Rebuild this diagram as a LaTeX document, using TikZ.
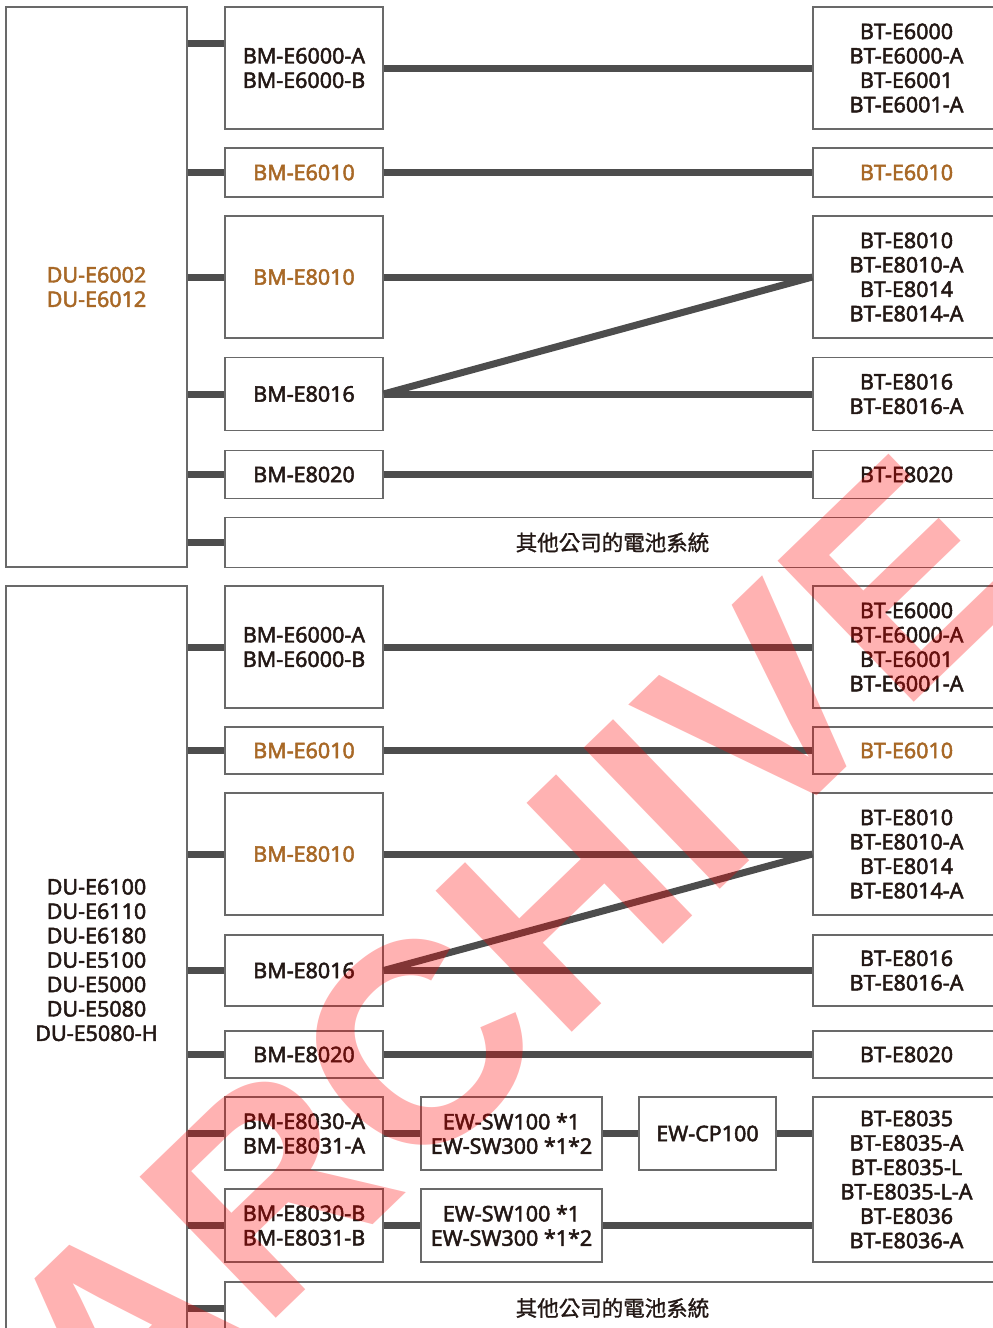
\documentclass[tikz,border=0pt]{standalone}
\usepackage{fontspec}
\setmainfont{Noto Sans}[FakeBold=2.2]
\newfontfamily\cjkfont{Noto Sans CJK TC}[FakeBold=1.2]
\newfontfamily\stampfont{Liberation Sans}
\definecolor{ink}{RGB}{35,24,21}
\definecolor{amber}{RGB}{168,104,38}
\definecolor{boxgray}{RGB}{105,105,105}
\definecolor{wiregray}{RGB}{77,77,77}
\definecolor{stampred}{RGB}{255,0,0}

\begin{document}
\begin{tikzpicture}[x=1pt, y=-1pt,
                    every node/.style={draw=boxgray, line width=1.2pt, fill=white, inner sep=0pt, align=center, text=ink, font=\fontsize{21.5}{24.4}\selectfont},
                    wire/.style={draw=wiregray, line width=7pt}
                    ]

    \useasboundingbox (0,0) rectangle (993,1328);
    \clip (0,0) rectangle (993,1328);

    \node[minimum width=181pt, minimum height=560pt, text=amber] (duA) at (96.5,287) {DU-E6002\\DU-E6012};
    \node[minimum width=158pt, minimum height=122pt] (bmA1) at (304,68) {BM-E6000-A\\BM-E6000-B};
    \node[minimum width=158pt, minimum height=49pt, text=amber] (bmA2) at (304,172.5) {BM-E6010};
    \node[minimum width=158pt, minimum height=122pt, text=amber] (bmA3) at (304,277) {BM-E8010};
    \node[minimum width=158pt, minimum height=73pt] (bmA4) at (304,394) {BM-E8016};
    \node[minimum width=158pt, minimum height=48pt] (bmA5) at (304,474.5) {BM-E8020};
    \node[minimum width=775pt, minimum height=50pt] (otherA) at (612.5,542.5) {\cjkfont 其他公司的電池系統};
    \node[minimum width=187pt, minimum height=122pt] (btA1) at (906.5,68) {BT-E6000\\BT-E6000-A\\BT-E6001\\BT-E6001-A};
    \node[minimum width=187pt, minimum height=49pt, text=amber] (btA2) at (906.5,172.5) {BT-E6010};
    \node[minimum width=187pt, minimum height=122pt] (btA3) at (906.5,277) {BT-E8010\\BT-E8010-A\\BT-E8014\\BT-E8014-A};
    \node[minimum width=187pt, minimum height=73pt] (btA4) at (906.5,394) {BT-E8016\\BT-E8016-A};
    \node[minimum width=187pt, minimum height=48pt] (btA5) at (906.5,474.5) {BT-E8020};

    \node[minimum width=181pt, minimum height=748pt] (duB) at (96.5,960) {DU-E6100\\DU-E6110\\DU-E6180\\DU-E5100\\DU-E5000\\DU-E5080\\DU-E5080-H};
    \node[minimum width=158pt, minimum height=122pt] (bmB1) at (304,647) {BM-E6000-A\\BM-E6000-B};
    \node[minimum width=158pt, minimum height=47pt, text=amber] (bmB2) at (304,750.5) {BM-E6010};
    \node[minimum width=158pt, minimum height=122pt, text=amber] (bmB3) at (304,854) {BM-E8010};
    \node[minimum width=158pt, minimum height=71pt] (bmB4) at (304,970.5) {BM-E8016};
    \node[minimum width=158pt, minimum height=47pt] (bmB5) at (304,1054.5) {BM-E8020};
    \node[minimum width=158pt, minimum height=73pt] (bmB6) at (304,1133.5) {BM-E8030-A\\BM-E8031-A};
    \node[minimum width=158pt, minimum height=73pt] (bmB7) at (304,1225.5) {BM-E8030-B\\BM-E8031-B};
    \node[minimum width=181pt, minimum height=73pt] (swB1) at (511.5,1133.5) {EW-SW100 *1\\EW-SW300 *1*2};
    \node[minimum width=181pt, minimum height=73pt] (swB2) at (511.5,1225.5) {EW-SW100 *1\\EW-SW300 *1*2};
    \node[minimum width=137pt, minimum height=73pt] (cpB) at (707.5,1133.5) {EW-CP100};
    \node[minimum width=775pt, minimum height=52pt] (otherB) at (612.5,1308) {\cjkfont 其他公司的電池系統};
    \node[minimum width=187pt, minimum height=122pt] (btB1) at (906.5,647) {BT-E6000\\BT-E6000-A\\BT-E6001\\BT-E6001-A};
    \node[minimum width=187pt, minimum height=47pt, text=amber] (btB2) at (906.5,750.5) {BT-E6010};
    \node[minimum width=187pt, minimum height=122pt] (btB3) at (906.5,854) {BT-E8010\\BT-E8010-A\\BT-E8014\\BT-E8014-A};
    \node[minimum width=187pt, minimum height=71pt] (btB4) at (906.5,970.5) {BT-E8016\\BT-E8016-A};
    \node[minimum width=187pt, minimum height=47pt] (btB5) at (906.5,1054.5) {BT-E8020};
    \node[minimum width=187pt, minimum height=165pt] (btB6) at (906.5,1179.5) {BT-E8035\\BT-E8035-A\\BT-E8035-L\\BT-E8035-L-A\\BT-E8036\\BT-E8036-A};

    \coordinate (tapA) at (0,43);
    \draw[wire] (duA.east |- tapA) -- (bmA1.west |- tapA);
    \foreach \m in {bmA2,bmA3,bmA4,bmA5,otherA}{
        \draw[wire] (duA.east |- \m.west) -- (\m.west);
    }
    \foreach \m/\t in {bmA1/btA1,bmA2/btA2,bmA3/btA3,bmA4/btA4,bmA5/btA5}{
        \draw[wire] (\m.east) -- (\t.west |- \m.east);
    }
    \draw[wire] (bmA4.east) -- (btA3.west);

    \foreach \m in {bmB1,bmB2,bmB3,bmB4,bmB5,bmB6,bmB7,otherB}{
        \draw[wire] (duB.east |- \m.west) -- (\m.west);
    }
    \foreach \m/\t in {bmB1/btB1,bmB2/btB2,bmB3/btB3,bmB4/btB4,bmB5/btB5,bmB6/swB1,swB1/cpB,cpB/btB6,bmB7/swB2,swB2/btB6}{
        \draw[wire] (\m.east) -- (\t.west |- \m.east);
    }
    \draw[wire] (bmB4.east) -- (btB3.west);

    \node[draw=none, fill=none, text=stampred, text opacity=0.3, font=\stampfont\bfseries\fontsize{285}{285}\selectfont, rotate=44, anchor=base west] (stamp) at (114,1475) {ARCHIVE};

\end{tikzpicture}
\end{document}
